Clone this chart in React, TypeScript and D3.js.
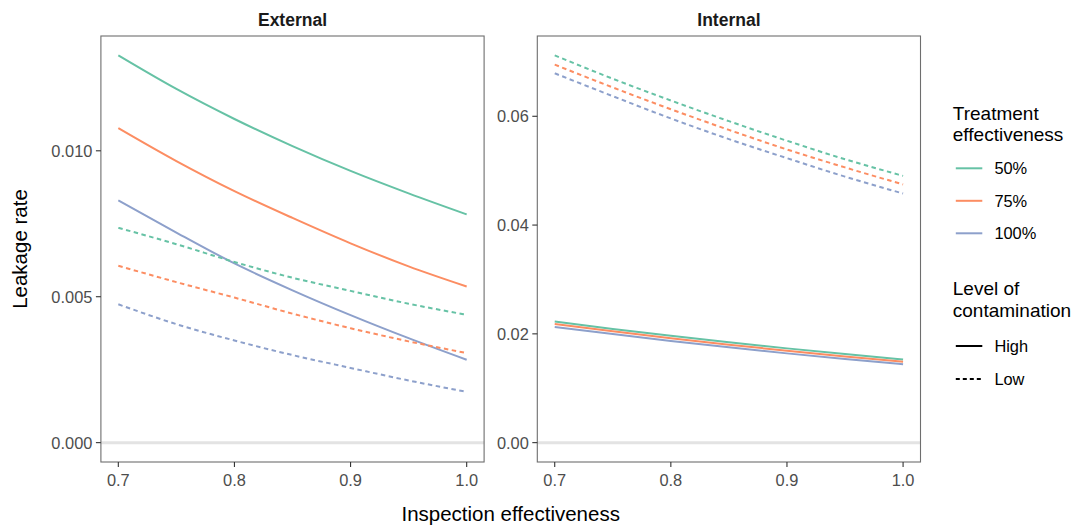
import React from "react";
import * as d3 from "d3";

const xValues = [0.7, 0.75, 0.8, 0.85, 0.9, 0.95, 1.0];
const xTicks = [0.7, 0.8, 0.9, 1.0];

const panels = ["External", "Internal"];
const treatments = ["50%", "75%", "100%"];
const levels = ["High", "Low"];

// External panel
const extHigh50 = [0.01327, 0.01212, 0.01109, 0.01016, 0.00931, 0.00854, 0.00782];
const extHigh75 = [0.01078, 0.00965, 0.00862, 0.0077, 0.00683, 0.00604, 0.00535];
const extHigh100 = [0.0083, 0.0072, 0.00614, 0.00522, 0.00437, 0.00358, 0.00284];
const extLow50 = [0.00736, 0.0068, 0.00619, 0.00565, 0.0052, 0.00476, 0.00438];
const extLow75 = [0.00606, 0.0055, 0.00497, 0.00442, 0.00392, 0.00347, 0.00307];
const extLow100 = [0.00474, 0.00406, 0.0035, 0.003, 0.00256, 0.00213, 0.00174];

// Internal panel
const intHigh50 = [0.02226, 0.0209, 0.01964, 0.01845, 0.01733, 0.01628, 0.01529];
const intHigh75 = [0.02183, 0.02047, 0.0192, 0.01801, 0.01689, 0.01584, 0.01486];
const intHigh100 = [0.02128, 0.01996, 0.0187, 0.01752, 0.01641, 0.01538, 0.01443];
const intLow50 = [0.0712, 0.0669, 0.0629, 0.0591, 0.0555, 0.0521, 0.04905];
const intLow75 = [0.0695, 0.0653, 0.0613, 0.0575, 0.0539, 0.0506, 0.04747];
const intLow100 = [0.0679, 0.0637, 0.0596, 0.0558, 0.0523, 0.0489, 0.0458];

const extYTicks = [0, 0.005, 0.01];
const intYTicks = [0, 0.02, 0.04, 0.06];

const colors = ["#66C2A5", "#FC8D62", "#8DA0CB"];

const seriesData = {
  External: {
    High: [extHigh50, extHigh75, extHigh100],
    Low: [extLow50, extLow75, extLow100],
  },
  Internal: {
    High: [intHigh50, intHigh75, intHigh100],
    Low: [intLow50, intLow75, intLow100],
  },
};

const FONT = "'Liberation Sans', Arial, Helvetica, sans-serif";

export default function App() {
  const W = 1073;
  const H = 526;
  const top = 36;
  const bottom = 462;
  const panelBoxes = [
    { x0: 100.9, x1: 484.1, ticks: extYTicks, fmt: d3.format(".3f") },
    { x0: 537.3, x1: 920.5, ticks: intYTicks, fmt: d3.format(".2f") },
  ];
  const dash = "4.5,3.5";
  const tickFont = 16.4;
  const legX = 952.8;

  return (
    <svg
      width={W}
      height={H}
      style={{ position: "absolute", left: 0, top: 0, background: "#fff" }}
      fontFamily={FONT}
    >
      <rect x={0} y={0} width={W} height={H} fill="#fff" />
      {panels.map((p, pi) => {
        const box = panelBoxes[pi];
        const all = [...seriesData[p].High.flat(), ...seriesData[p].Low.flat(), 0];
        const ymin = d3.min(all);
        const ymax = d3.max(all);
        const pad = (ymax - ymin) * 0.05;
        const y = d3.scaleLinear().domain([ymin - pad, ymax + pad]).range([bottom, top]);
        const xpad = (1.0 - 0.7) * 0.05;
        const x = d3.scaleLinear().domain([0.7 - xpad, 1.0 + xpad]).range([box.x0, box.x1]);
        const line = d3
          .line<number>()
          .x((_, i) => x(xValues[i]))
          .y((d) => y(d))
          .curve(d3.curveMonotoneX);
        return (
          <g key={p}>
            <text
              x={(box.x0 + box.x1) / 2}
              y={25.5}
              textAnchor="middle"
              fontSize={17.5}
              fontWeight="bold"
              fill="#1a1a1a"
            >
              {p}
            </text>
            <clipPath id={`clip${pi}`}>
              <rect x={box.x0} y={top} width={box.x1 - box.x0} height={bottom - top} />
            </clipPath>
            <line
              x1={box.x0}
              x2={box.x1}
              y1={y(0)}
              y2={y(0)}
              stroke="#E3E3E3"
              strokeWidth={3}
            />
            <g clipPath={`url(#clip${pi})`}>
              {levels.map((lv) =>
                seriesData[p][lv].map((vals, ti) => (
                  <path
                    key={`${lv}-${ti}`}
                    d={line(vals) || ""}
                    fill="none"
                    stroke={colors[ti]}
                    strokeWidth={2}
                    strokeDasharray={lv === "Low" ? dash : undefined}
                  />
                ))
              )}
            </g>
            <rect
              x={box.x0}
              y={top}
              width={box.x1 - box.x0}
              height={bottom - top}
              fill="none"
              stroke="#6e6e6e"
              strokeWidth={1.1}
            />
            {box.ticks.map((t) => (
              <g key={`y${t}`}>
                <line x1={box.x0 - 5} x2={box.x0} y1={y(t)} y2={y(t)} stroke="#333" strokeWidth={1.1} />
                <text
                  x={box.x0 - 8.5}
                  y={y(t)}
                  dy="0.36em"
                  textAnchor="end"
                  fontSize={tickFont}
                  fill="#4D4D4D"
                >
                  {box.fmt(t)}
                </text>
              </g>
            ))}
            {xTicks.map((t) => (
              <g key={`x${t}`}>
                <line x1={x(t)} x2={x(t)} y1={bottom} y2={bottom + 5} stroke="#333" strokeWidth={1.1} />
                <text x={x(t)} y={486} textAnchor="middle" fontSize={tickFont} fill="#4D4D4D">
                  {d3.format(".1f")(t)}
                </text>
              </g>
            ))}
          </g>
        );
      })}
      <text x={(100.9 + 920.5) / 2} y={521} textAnchor="middle" fontSize={20.5} fill="#000">
        Inspection effectiveness
      </text>
      <text
        transform={`translate(27,${(top + bottom) / 2}) rotate(-90)`}
        textAnchor="middle"
        fontSize={20.5}
        fill="#000"
      >
        Leakage rate
      </text>
      {/* Legend: treatment effectiveness */}
      <g fontSize={19} fill="#000">
        <text x={legX} y={119.5}>Treatment</text>
        <text x={legX} y={141}>effectiveness</text>
        {treatments.map((t, i) => (
          <g key={t}>
            <line x1={legX + 3} x2={legX + 29.5} y1={168.3 + i * 32.5} y2={168.3 + i * 32.5} stroke={colors[i]} strokeWidth={2} />
            <text x={legX + 41.6} y={174.3 + i * 32.5} fontSize={tickFont}>
              {t}
            </text>
          </g>
        ))}
        <text x={legX} y={295}>Level of</text>
        <text x={legX} y={317}>contamination</text>
        {levels.map((lv, i) => (
          <g key={lv}>
            <line
              x1={legX + 3}
              x2={legX + 29.5}
              y1={346 + i * 33}
              y2={346 + i * 33}
              stroke="#000"
              strokeWidth={2}
              strokeDasharray={lv === "Low" ? "4,3" : undefined}
            />
            <text x={legX + 41.6} y={352 + i * 33} fontSize={tickFont}>
              {lv}
            </text>
          </g>
        ))}
      </g>
    </svg>
  );
}
